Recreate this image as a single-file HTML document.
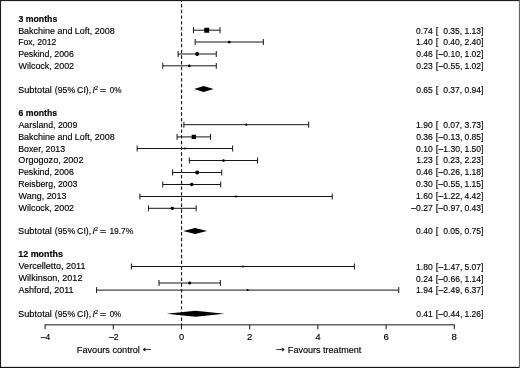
<!DOCTYPE html>
<html><head><meta charset="utf-8"><title>Forest plot</title>
<style>
html,body{margin:0;padding:0;background:#fff;}
body{width:520px;height:368px;overflow:hidden;position:relative;}
svg{position:absolute;left:0;top:0;display:block;}
text{font-family:"Liberation Sans",sans-serif;font-size:9.2px;fill:#000;stroke:#000;stroke-width:0.15px;}
.b{font-weight:bold;}
.i{font-style:italic;}
.ar{font-family:"DejaVu Sans",sans-serif;font-size:8px;}
.l{stroke:#161616;stroke-width:1.0;fill:none;}
</style></head><body>
<svg width="520" height="368" viewBox="0 0 520 368">
<rect x="0" y="0" width="520" height="368" fill="#fff"/>
<rect x="0" y="0" width="520" height="1.1" fill="#1c1c1c"/>
<rect x="0" y="0" width="1.05" height="368" fill="#1c1c1c"/>
<rect x="0" y="366.85" width="520" height="1.15" fill="#111"/>
<rect x="518.9" y="0" width="1.1" height="368" fill="#666"/>
<line x1="181.55" y1="1" x2="181.55" y2="325" stroke="#161616" stroke-width="1.15" stroke-dasharray="3.4 2.3" stroke-dashoffset="2.65"/>
<path class="l" d="M193.44 30.20H220.03M193.44 27.20v6M220.03 27.20v6"/>
<rect x="204.23" y="27.70" width="5.00" height="5.00" rx="0.30" fill="#000"/>
<path class="l" d="M195.14 42.00H263.34M195.14 39.00v6M263.34 39.00v6"/>
<rect x="227.89" y="40.65" width="2.70" height="2.70" rx="1.22" fill="#000"/>
<path class="l" d="M178.09 54.00H216.28M178.09 51.00v6M216.28 51.00v6"/>
<rect x="195.29" y="52.10" width="3.80" height="3.80" rx="1.71" fill="#000"/>
<path class="l" d="M162.75 65.80H216.28M162.75 62.80v6M216.28 62.80v6"/>
<rect x="187.99" y="64.45" width="2.70" height="2.70" rx="1.22" fill="#000"/>
<polygon points="194.12,89.00 203.66,86.00 213.55,89.00 203.66,92.00" fill="#000"/>
<path class="l" d="M183.89 124.70H308.69M183.89 121.70v6M308.69 121.70v6"/>
<rect x="245.19" y="123.60" width="2.20" height="2.20" rx="0.99" fill="#000"/>
<path class="l" d="M177.07 136.90H210.49M177.07 133.90v6M210.49 133.90v6"/>
<rect x="191.63" y="134.75" width="4.30" height="4.30" rx="0.30" fill="#000"/>
<path class="l" d="M137.17 148.50H232.65M137.17 145.50v6M232.65 145.50v6"/>
<rect x="183.81" y="147.40" width="2.20" height="2.20" rx="0.99" fill="#000"/>
<path class="l" d="M189.34 160.50H257.54M189.34 157.50v6M257.54 157.50v6"/>
<rect x="222.09" y="159.15" width="2.70" height="2.70" rx="1.22" fill="#000"/>
<path class="l" d="M172.63 172.50H221.74M172.63 169.50v6M221.74 169.50v6"/>
<rect x="195.29" y="170.60" width="3.80" height="3.80" rx="1.71" fill="#000"/>
<path class="l" d="M162.75 184.50H220.72M162.75 181.50v6M220.72 181.50v6"/>
<rect x="190.08" y="182.85" width="3.30" height="3.30" rx="1.48" fill="#000"/>
<path class="l" d="M139.90 196.50H332.22M139.90 193.50v6M332.22 193.50v6"/>
<rect x="234.96" y="195.40" width="2.20" height="2.20" rx="0.99" fill="#000"/>
<path class="l" d="M148.42 208.30H196.16M148.42 205.30v6M196.16 205.30v6"/>
<rect x="170.64" y="206.65" width="3.30" height="3.30" rx="1.48" fill="#000"/>
<polygon points="183.21,231.00 195.14,228.00 207.07,231.00 195.14,234.00" fill="#000"/>
<path class="l" d="M131.37 266.50H354.39M131.37 263.50v6M354.39 263.50v6"/>
<rect x="241.88" y="265.50" width="2.00" height="2.00" rx="0.90" fill="#000"/>
<path class="l" d="M158.99 283.00H220.37M158.99 280.00v6M220.37 280.00v6"/>
<rect x="188.28" y="281.60" width="2.80" height="2.80" rx="1.26" fill="#000"/>
<path class="l" d="M96.59 290.10H398.72M96.59 287.10v6M398.72 287.10v6"/>
<rect x="246.65" y="289.10" width="2.00" height="2.00" rx="0.90" fill="#000"/>
<polygon points="166.50,313.70 195.48,310.70 224.47,313.70 195.48,316.70" fill="#000"/>
<path class="l" d="M44.70 324.85H454.70M45.10 324.85v4.5M113.30 324.85v4.5M181.50 324.85v4.5M249.70 324.85v4.5M317.90 324.85v4.5M386.10 324.85v4.5M454.30 324.85v4.5"/>
<text x="18.49" y="21.94" textLength="38.82" lengthAdjust="spacingAndGlyphs" class="b">3 months</text>
<text x="18.13" y="33.55" textLength="96.53" lengthAdjust="spacingAndGlyphs">Bakchine and Loft, 2008</text>
<text x="416.05" y="33.55" textLength="16.64" lengthAdjust="spacingAndGlyphs">0.74</text>
<text x="435.64" y="33.55">[</text>
<text x="443.23" y="33.55" textLength="19.01" lengthAdjust="spacingAndGlyphs">0.35,</text>
<text x="464.43" y="33.55" textLength="19.01" lengthAdjust="spacingAndGlyphs">1.13]</text>
<text x="18.16" y="45.36" textLength="38.25" lengthAdjust="spacingAndGlyphs">Fox, 2012</text>
<text x="416.10" y="45.36" textLength="16.64" lengthAdjust="spacingAndGlyphs">1.40</text>
<text x="435.64" y="45.36">[</text>
<text x="443.23" y="45.36" textLength="19.01" lengthAdjust="spacingAndGlyphs">0.40,</text>
<text x="464.43" y="45.36" textLength="19.01" lengthAdjust="spacingAndGlyphs">2.40]</text>
<text x="18.14" y="57.17" textLength="55.68" lengthAdjust="spacingAndGlyphs">Peskind, 2006</text>
<text x="416.19" y="57.17" textLength="16.64" lengthAdjust="spacingAndGlyphs">0.46</text>
<text x="435.64" y="57.17">[</text>
<text x="438.58" y="57.17" textLength="23.76" lengthAdjust="spacingAndGlyphs">–0.10,</text>
<text x="464.43" y="57.17" textLength="19.01" lengthAdjust="spacingAndGlyphs">1.02]</text>
<text x="18.58" y="68.98" textLength="55.50" lengthAdjust="spacingAndGlyphs">Wilcock, 2002</text>
<text x="416.19" y="68.98" textLength="16.64" lengthAdjust="spacingAndGlyphs">0.23</text>
<text x="435.64" y="68.98">[</text>
<text x="438.58" y="68.98" textLength="23.76" lengthAdjust="spacingAndGlyphs">–0.55,</text>
<text x="464.43" y="68.98" textLength="19.01" lengthAdjust="spacingAndGlyphs">1.02]</text>
<text x="18.10" y="92.60" textLength="33.82" lengthAdjust="spacingAndGlyphs">Subtotal</text>
<text x="54.77" y="92.60" textLength="20.39" lengthAdjust="spacingAndGlyphs">(95%</text>
<text x="77.10" y="92.60" textLength="14.03" lengthAdjust="spacingAndGlyphs">CI),</text>
<text x="92.51" y="92.60" textLength="5.32" lengthAdjust="spacingAndGlyphs"><tspan class="i">I</tspan><tspan font-size="5.4" dy="-3.1">2</tspan></text>
<text x="100.08" y="92.60" textLength="6.24" lengthAdjust="spacingAndGlyphs">=</text>
<text x="109.68" y="92.60" textLength="11.79" lengthAdjust="spacingAndGlyphs">0%</text>
<text x="416.18" y="92.60" textLength="16.64" lengthAdjust="spacingAndGlyphs">0.65</text>
<text x="435.64" y="92.60">[</text>
<text x="443.23" y="92.60" textLength="19.01" lengthAdjust="spacingAndGlyphs">0.37,</text>
<text x="464.43" y="92.60" textLength="19.01" lengthAdjust="spacingAndGlyphs">0.94]</text>
<text x="18.43" y="116.22" textLength="38.63" lengthAdjust="spacingAndGlyphs" class="b">6 months</text>
<text x="18.56" y="128.03" textLength="58.78" lengthAdjust="spacingAndGlyphs">Aarsland, 2009</text>
<text x="416.10" y="128.03" textLength="16.64" lengthAdjust="spacingAndGlyphs">1.90</text>
<text x="435.64" y="128.03">[</text>
<text x="443.23" y="128.03" textLength="19.01" lengthAdjust="spacingAndGlyphs">0.07,</text>
<text x="464.43" y="128.03" textLength="19.01" lengthAdjust="spacingAndGlyphs">3.73]</text>
<text x="18.13" y="139.84" textLength="96.53" lengthAdjust="spacingAndGlyphs">Bakchine and Loft, 2008</text>
<text x="416.19" y="139.84" textLength="16.64" lengthAdjust="spacingAndGlyphs">0.36</text>
<text x="435.64" y="139.84">[</text>
<text x="438.58" y="139.84" textLength="23.76" lengthAdjust="spacingAndGlyphs">–0.13,</text>
<text x="464.43" y="139.84" textLength="19.01" lengthAdjust="spacingAndGlyphs">0.85]</text>
<text x="18.14" y="151.65" textLength="47.01" lengthAdjust="spacingAndGlyphs">Boxer, 2013</text>
<text x="416.10" y="151.65" textLength="16.64" lengthAdjust="spacingAndGlyphs">0.10</text>
<text x="435.64" y="151.65">[</text>
<text x="438.58" y="151.65" textLength="23.76" lengthAdjust="spacingAndGlyphs">–1.30,</text>
<text x="464.43" y="151.65" textLength="19.01" lengthAdjust="spacingAndGlyphs">1.50]</text>
<text x="18.32" y="163.46" textLength="65.15" lengthAdjust="spacingAndGlyphs">Orgogozo, 2002</text>
<text x="416.19" y="163.46" textLength="16.64" lengthAdjust="spacingAndGlyphs">1.23</text>
<text x="435.64" y="163.46">[</text>
<text x="443.23" y="163.46" textLength="19.01" lengthAdjust="spacingAndGlyphs">0.23,</text>
<text x="464.43" y="163.46" textLength="19.01" lengthAdjust="spacingAndGlyphs">2.23]</text>
<text x="18.14" y="175.27" textLength="55.68" lengthAdjust="spacingAndGlyphs">Peskind, 2006</text>
<text x="416.19" y="175.27" textLength="16.64" lengthAdjust="spacingAndGlyphs">0.46</text>
<text x="435.64" y="175.27">[</text>
<text x="438.58" y="175.27" textLength="23.76" lengthAdjust="spacingAndGlyphs">–0.26,</text>
<text x="464.43" y="175.27" textLength="19.01" lengthAdjust="spacingAndGlyphs">1.18]</text>
<text x="18.15" y="187.08" textLength="59.31" lengthAdjust="spacingAndGlyphs">Reisberg, 2003</text>
<text x="416.10" y="187.08" textLength="16.64" lengthAdjust="spacingAndGlyphs">0.30</text>
<text x="435.64" y="187.08">[</text>
<text x="438.58" y="187.08" textLength="23.76" lengthAdjust="spacingAndGlyphs">–0.55,</text>
<text x="464.43" y="187.08" textLength="19.01" lengthAdjust="spacingAndGlyphs">1.15]</text>
<text x="18.58" y="198.89" textLength="47.98" lengthAdjust="spacingAndGlyphs">Wang, 2013</text>
<text x="416.10" y="198.89" textLength="16.64" lengthAdjust="spacingAndGlyphs">1.60</text>
<text x="435.64" y="198.89">[</text>
<text x="438.58" y="198.89" textLength="23.76" lengthAdjust="spacingAndGlyphs">–1.22,</text>
<text x="464.43" y="198.89" textLength="19.01" lengthAdjust="spacingAndGlyphs">4.42]</text>
<text x="18.58" y="210.70" textLength="55.50" lengthAdjust="spacingAndGlyphs">Wilcock, 2002</text>
<text x="411.33" y="210.70" textLength="21.39" lengthAdjust="spacingAndGlyphs">–0.27</text>
<text x="435.64" y="210.70">[</text>
<text x="438.58" y="210.70" textLength="23.76" lengthAdjust="spacingAndGlyphs">–0.97,</text>
<text x="464.43" y="210.70" textLength="19.01" lengthAdjust="spacingAndGlyphs">0.43]</text>
<text x="18.10" y="234.32" textLength="33.82" lengthAdjust="spacingAndGlyphs">Subtotal</text>
<text x="54.77" y="234.32" textLength="20.39" lengthAdjust="spacingAndGlyphs">(95%</text>
<text x="77.10" y="234.32" textLength="14.03" lengthAdjust="spacingAndGlyphs">CI),</text>
<text x="92.51" y="234.32" textLength="5.32" lengthAdjust="spacingAndGlyphs"><tspan class="i">I</tspan><tspan font-size="5.4" dy="-3.1">2</tspan></text>
<text x="100.08" y="234.32" textLength="6.24" lengthAdjust="spacingAndGlyphs">=</text>
<text x="109.41" y="234.32" textLength="23.88" lengthAdjust="spacingAndGlyphs">19.7%</text>
<text x="416.10" y="234.32" textLength="16.64" lengthAdjust="spacingAndGlyphs">0.40</text>
<text x="435.64" y="234.32">[</text>
<text x="443.23" y="234.32" textLength="19.01" lengthAdjust="spacingAndGlyphs">0.05,</text>
<text x="464.43" y="234.32" textLength="19.01" lengthAdjust="spacingAndGlyphs">0.75]</text>
<text x="18.27" y="257.49" textLength="44.66" lengthAdjust="spacingAndGlyphs" class="b">12 months</text>
<text x="18.53" y="269.30" textLength="67.04" lengthAdjust="spacingAndGlyphs">Vercelletto, 2011</text>
<text x="416.10" y="269.75" textLength="16.64" lengthAdjust="spacingAndGlyphs">1.80</text>
<text x="435.64" y="269.75">[</text>
<text x="438.58" y="269.75" textLength="23.76" lengthAdjust="spacingAndGlyphs">–1.47,</text>
<text x="464.43" y="269.75" textLength="19.01" lengthAdjust="spacingAndGlyphs">5.07]</text>
<text x="18.58" y="281.11" textLength="63.85" lengthAdjust="spacingAndGlyphs">Wilkinson, 2012</text>
<text x="416.05" y="281.56" textLength="16.64" lengthAdjust="spacingAndGlyphs">0.24</text>
<text x="435.64" y="281.56">[</text>
<text x="438.58" y="281.56" textLength="23.76" lengthAdjust="spacingAndGlyphs">–0.66,</text>
<text x="464.43" y="281.56" textLength="19.01" lengthAdjust="spacingAndGlyphs">1.14]</text>
<text x="18.56" y="292.92" textLength="54.98" lengthAdjust="spacingAndGlyphs">Ashford, 2011</text>
<text x="416.05" y="293.37" textLength="16.64" lengthAdjust="spacingAndGlyphs">1.94</text>
<text x="435.64" y="293.37">[</text>
<text x="438.58" y="293.37" textLength="23.76" lengthAdjust="spacingAndGlyphs">–2.49,</text>
<text x="464.43" y="293.37" textLength="19.01" lengthAdjust="spacingAndGlyphs">6.37]</text>
<text x="18.10" y="316.99" textLength="33.82" lengthAdjust="spacingAndGlyphs">Subtotal</text>
<text x="54.77" y="316.99" textLength="20.39" lengthAdjust="spacingAndGlyphs">(95%</text>
<text x="77.10" y="316.99" textLength="14.03" lengthAdjust="spacingAndGlyphs">CI),</text>
<text x="92.51" y="316.99" textLength="5.32" lengthAdjust="spacingAndGlyphs"><tspan class="i">I</tspan><tspan font-size="5.4" dy="-3.1">2</tspan></text>
<text x="100.08" y="316.99" textLength="6.24" lengthAdjust="spacingAndGlyphs">=</text>
<text x="109.69" y="316.99" textLength="11.52" lengthAdjust="spacingAndGlyphs">0%</text>
<text x="416.18" y="316.99" textLength="16.64" lengthAdjust="spacingAndGlyphs">0.41</text>
<text x="435.64" y="316.99">[</text>
<text x="438.58" y="316.99" textLength="23.76" lengthAdjust="spacingAndGlyphs">–0.44,</text>
<text x="464.43" y="316.99" textLength="19.01" lengthAdjust="spacingAndGlyphs">1.26]</text>
<text x="40.73" y="340.30" textLength="9.45" lengthAdjust="spacingAndGlyphs">–4</text>
<text x="108.93" y="340.30" textLength="9.56" lengthAdjust="spacingAndGlyphs">–2</text>
<text x="178.94" y="340.30" textLength="5.16" lengthAdjust="spacingAndGlyphs">0</text>
<text x="247.04" y="340.30" textLength="5.40" lengthAdjust="spacingAndGlyphs">2</text>
<text x="315.42" y="340.30" textLength="5.09" lengthAdjust="spacingAndGlyphs">4</text>
<text x="383.44" y="340.30" textLength="5.37" lengthAdjust="spacingAndGlyphs">6</text>
<text x="451.62" y="340.30" textLength="5.39" lengthAdjust="spacingAndGlyphs">8</text>
<text x="76.87" y="353.25" textLength="63.00" lengthAdjust="spacingAndGlyphs">Favours control</text>
<text x="142.66" y="352.00" textLength="9.05" lengthAdjust="spacingAndGlyphs" class="ar">←</text>
<text x="276.32" y="352.00" textLength="8.90" lengthAdjust="spacingAndGlyphs" class="ar">→</text>
<text x="287.87" y="353.25" textLength="73.44" lengthAdjust="spacingAndGlyphs">Favours treatment</text>
</svg>
</body></html>
